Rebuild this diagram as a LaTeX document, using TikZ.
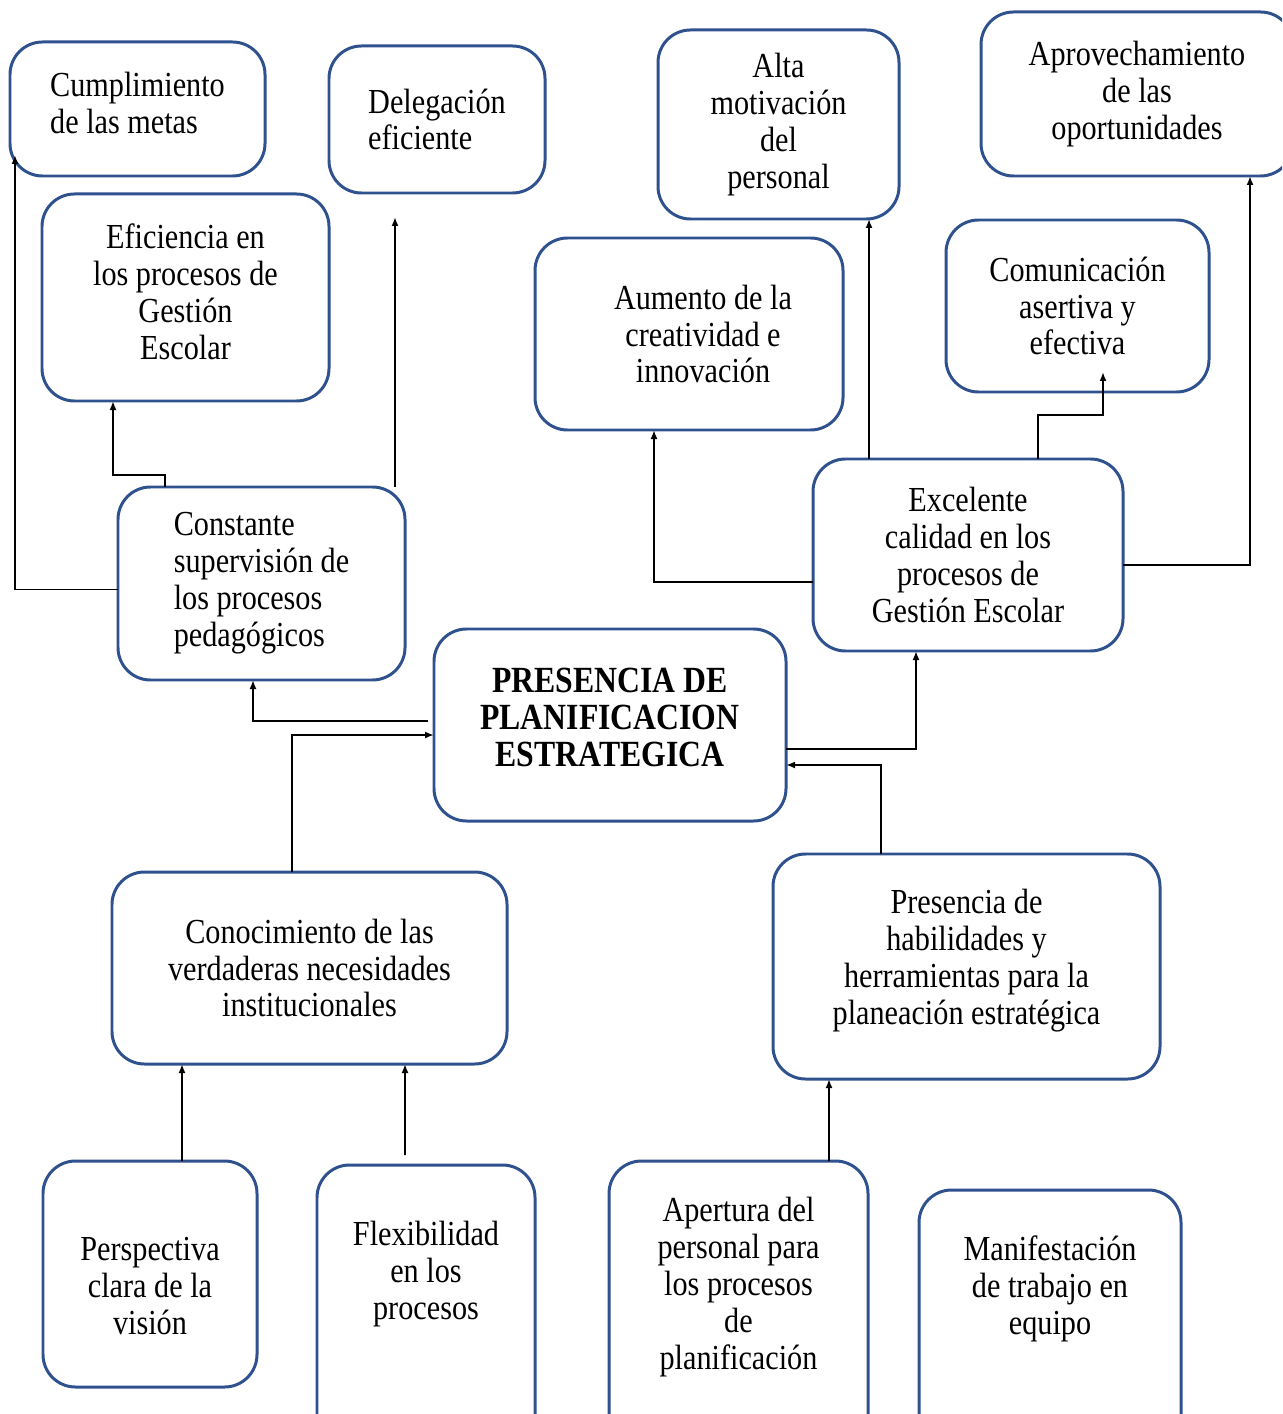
\documentclass[tikz,border=0pt]{standalone}
\usepackage{fontspec}
\setmainfont{Liberation Serif}[FakeStretch=0.86]
\usetikzlibrary{arrows.meta, calc}
\definecolor{boxblue}{HTML}{2F528F}
% extra depth under the last line, pushes the text up in its box
\newcommand{\lift}[1]{\rule[-#1]{0pt}{#1}}
% extra height over the first line, pushes the text down
\newcommand{\drop}[1]{\rule{0pt}{#1}}

\begin{document}
\begin{tikzpicture}[
    x=0.2mm, y=-0.2mm,
    box/.style={rectangle, rounded corners=6.5mm, draw=boxblue, line width=1.7pt, align=center, inner sep=2pt, outer sep=0pt, font=\fontsize{20}{21}\selectfont},
    lbox/.style={box, align=left},
    arr/.style={-{Latex[length=1.8mm, width=1.4mm]}, line width=1.1pt},
  ]
    \useasboundingbox (0,0) rectangle (1282,1414);
    \clip (0,0) rectangle (1282,1414);

    % Top row
    \node[lbox, minimum width=51mm, minimum height=26.8mm] (cumpl) at (137.5,109) {Cumplimiento\\de las metas\lift{2.4mm}};
    \node[lbox, minimum width=43.2mm, minimum height=29.4mm] (deleg) at (437,119.5) {Delegación\\eficiente};
    \node[box, minimum width=57.4mm, minimum height=41.4mm] (efic) at (185.5,297.5) {Eficiencia en\\los procesos de\\Gestión\\Escolar\lift{2.4mm}};
    \node[box, minimum width=48.2mm, minimum height=37.8mm] (alta) at (778.5,124.5) {Alta\\motivación\\del\\personal};
    \node[box, minimum width=62.4mm, minimum height=32.8mm] (aprov) at (1137,94) {Aprovechamiento\\de las\\oportunidades};
    \node[box, minimum width=61.6mm, minimum height=38.4mm] (aumento) at (689,334) {\hspace*{5.6mm}Aumento de la\\\hspace*{5.6mm}creatividad e\\\hspace*{5.6mm}innovación};
    \node[box, minimum width=52.6mm, minimum height=34.4mm] (comun) at (1077.5,306) {Comunicación\\asertiva y\\efectiva};

    % Middle row
    \node[lbox, minimum width=57.4mm, minimum height=38.6mm] (const) at (261.5,583.5) {Constante\\supervisión de\\los procesos\\pedagógicos};
    \node[box, minimum width=62mm, minimum height=38.4mm] (excel) at (968,555) {Excelente\\calidad en los\\procesos de\\Gestión Escolar};
    \node[box, minimum width=70.4mm, minimum height=38.4mm, font=\fontsize{21}{21}\selectfont\bfseries] (pres) at (610,725) {PRESENCIA DE\\PLANIFICACION\\ESTRATEGICA\lift{3mm}};

    % Lower row
    \node[box, minimum width=79mm, minimum height=38.4mm] (conoc) at (309.5,968) {Conocimiento de las\\verdaderas necesidades\\institucionales};
    \node[box, minimum width=77.4mm, minimum height=45mm] (habil) at (966.5,966.5) {Presencia de\\habilidades y\\herramientas para la\\planeación estratégica\lift{4mm}};

    % Bottom row
    \node[box, minimum width=42.8mm, minimum height=45.2mm] (persp) at (150,1274) {\drop{9.5mm}Perspectiva\\clara de la\\visión};
    \node[box, minimum width=43.6mm, minimum height=60mm] (flex) at (426,1315) {Flexibilidad\\en los\\procesos\lift{18mm}};
    \node[box, minimum width=51.8mm, minimum height=60mm] (apert) at (738.5,1311) {Apertura del\\personal para\\los procesos\\de\\planificación\lift{11mm}};
    \node[box, minimum width=52.4mm, minimum height=60mm] (manif) at (1050,1340) {Manifestación\\de trabajo en\\equipo\lift{22mm}};

    % Connectors on the left
    \draw[arr] ([yshift=-1.2mm]const.west) -| ([xshift=1mm, yshift=4.2mm]cumpl.south west);
    \draw[arr] ([xshift=9.4mm]const.north west) -- ++(0,-12) -| ([xshift=-14.5mm]efic.south);
    \draw[arr] ([xshift=-2mm]const.north east) -- ([xshift=-8.4mm, yshift=-4.8mm]deleg.south);
    \draw[arr] ([xshift=-1.2mm, yshift=0.8mm]pres.west) -| ([xshift=-1.7mm]const.south);
    \draw[arr] ([xshift=-3.5mm]conoc.north) |- ([yshift=-2mm]pres.west);

    % Connectors on the right
    \draw[arr] ([yshift=-4.8mm]pres.east) -| ([xshift=-10.4mm]excel.south);
    \draw[arr] ([xshift=-17.1mm]habil.north) |- ([yshift=-8mm]pres.east);
    \draw[arr] ([yshift=-5.4mm]excel.west) -| ([xshift=-7mm]aumento.south);
    \draw[arr] ([xshift=-19.8mm]excel.north) -- ([xshift=18.1mm]alta.south);
    \draw[arr] ([xshift=14mm]excel.north) -- ++(0,-44) -| ([xshift=5.1mm, yshift=4mm]comun.south);
    \draw[arr] ([yshift=-2mm]excel.east) -| ([xshift=22.6mm]aprov.south);

    % From the bottom row
    \draw[arr] ([xshift=6.4mm]persp.north) -- ([xshift=-25.5mm]conoc.south);
    \draw[arr] ([xshift=-4.2mm, yshift=2mm]flex.north) -- ([xshift=19.1mm]conoc.south);
    \draw[arr] ([xshift=18.1mm]apert.north) -- ([xshift=-27.5mm]habil.south);
  \end{tikzpicture}
\end{document}
